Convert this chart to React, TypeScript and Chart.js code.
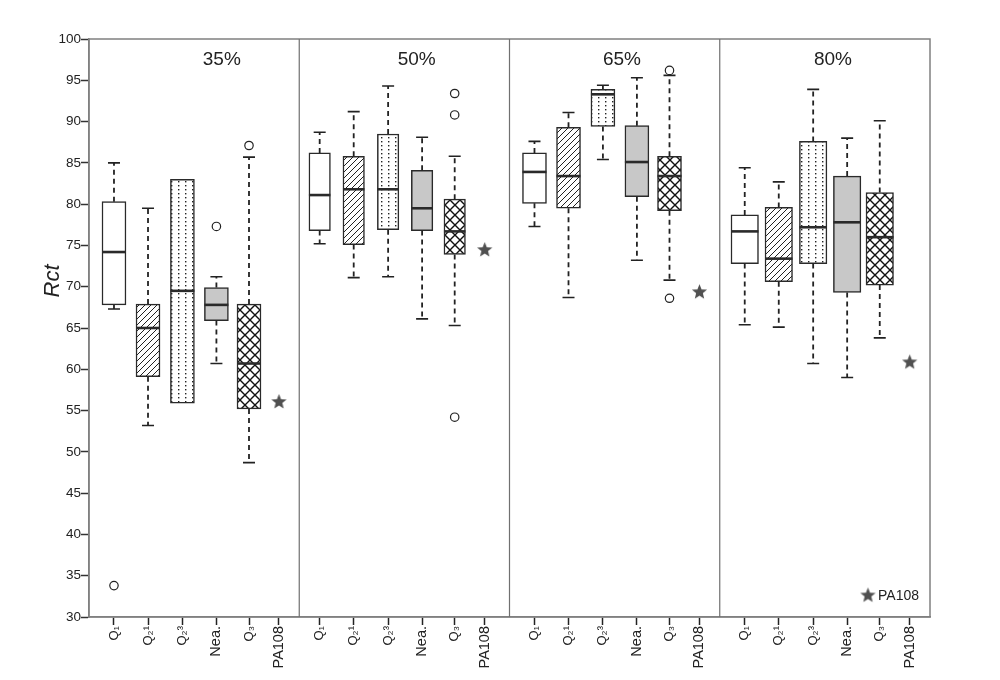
import React, { useEffect, useRef } from 'react';
import { Chart, registerables } from 'chart.js';

Chart.register(...registerables);

// ---------------- data ----------------
const panels = ['35%', '50%', '65%', '80%'];
const groups = ['Q₁', 'Q₂¹', 'Q₂³', 'Nea.', 'Q₃'];
const referenceLabel = 'PA108';
const categories = [...groups, referenceLabel];

const whiskerLow = [
  [67.3, 53.2, 55.9, 60.7, 48.7],
  [75.2, 71.1, 71.2, 66.1, 65.3],
  [77.3, 68.7, 85.4, 73.2, 70.8],
  [65.4, 65.1, 60.7, 59.0, 63.8],
];
const boxLow = [
  [67.8, 59.1, 55.9, 65.9, 55.2],
  [76.8, 75.1, 76.9, 76.8, 73.9],
  [80.1, 79.5, 89.4, 80.9, 79.2],
  [72.8, 70.6, 72.8, 69.3, 70.2],
];
const medians = [
  [74.2, 65.0, 69.5, 67.8, 60.7],
  [81.1, 81.8, 81.8, 79.5, 76.7],
  [83.9, 83.4, 93.3, 85.1, 83.4],
  [76.7, 73.4, 77.2, 77.8, 76.0],
];
const boxHigh = [
  [80.3, 67.9, 83.0, 69.9, 67.9],
  [86.2, 85.8, 88.5, 84.1, 80.6],
  [86.2, 89.3, 93.9, 89.5, 85.8],
  [78.7, 79.6, 87.6, 83.4, 81.4],
];
const whiskerHigh = [
  [85.0, 79.5, 83.0, 71.2, 85.7],
  [88.7, 91.2, 94.3, 88.1, 85.8],
  [87.6, 91.1, 94.4, 95.3, 95.6],
  [84.4, 82.7, 93.9, 88.0, 90.1],
];
// [panel index, group index, value]
const outliers: [number, number, number][] = [
  [0, 0, 33.8], [0, 3, 77.3], [0, 4, 87.1],
  [1, 4, 93.4], [1, 4, 90.8], [1, 4, 54.2],
  [2, 4, 96.2], [2, 4, 68.6],
];
const pa108 = [56.1, 74.5, 69.4, 60.9];
const yMin = 30;
const yMax = 100;
const yStep = 5;

// ---------------- layout ----------------
const SLOT = [0.713, 1.684, 2.666, 3.636, 4.566, 5.422];
const PANEL_SHIFT = [0, -0.13, 0, 0];
const BOX_W = [24, 21.5, 24, 27.5];
const TITLE_X = [3.79, 9.35, 15.21, 21.23];
const xPos = (p: number, i: number) => p * 6 + PANEL_SHIFT[p] + SLOT[i];
const tickPositions = panels.flatMap((_, p) => categories.map((__, i) => xPos(p, i)));

const FONT = '"Liberation Sans", Arial, sans-serif';

function makeTile(w: number, h: number, draw: (g: CanvasRenderingContext2D) => void) {
  const c = document.createElement('canvas');
  c.width = w;
  c.height = h;
  const g = c.getContext('2d')!;
  g.fillStyle = '#ffffff';
  g.fillRect(0, 0, w, h);
  draw(g);
  return c;
}

function makeStar(size: number, color: string) {
  const c = document.createElement('canvas');
  c.width = size;
  c.height = size;
  const g = c.getContext('2d')!;
  const cx = size / 2;
  const cy = size / 2 + 0.5;
  const R = size / 2 - 0.5;
  const r = R * 0.44;
  g.fillStyle = color;
  g.beginPath();
  for (let k = 0; k < 10; k++) {
    const rad = k % 2 === 0 ? R : r;
    const a = -Math.PI / 2 + (k * Math.PI) / 5;
    const px = cx + rad * Math.cos(a);
    const py = cy + rad * Math.sin(a);
    if (k === 0) g.moveTo(px, py);
    else g.lineTo(px, py);
  }
  g.closePath();
  g.fill();
  return c;
}

export default function App() {
  const ref = useRef<HTMLCanvasElement | null>(null);

  useEffect(() => {
    const canvas = ref.current!;
    const ctx0 = canvas.getContext('2d')!;

    const hatchTile = makeTile(6, 6, (g) => {
      g.strokeStyle = '#222';
      g.lineWidth = 1;
      g.beginPath();
      g.moveTo(0, 6); g.lineTo(6, 0);
      g.moveTo(-1, 1); g.lineTo(1, -1);
      g.moveTo(5, 7); g.lineTo(7, 5);
      g.stroke();
    });
    const dotTile = makeTile(7, 4, (g) => {
      g.fillStyle = '#222';
      g.fillRect(3, 1, 1.4, 1.4);
    });
    const crossTile = makeTile(10, 10, (g) => {
      g.strokeStyle = '#111';
      g.lineWidth = 1.4;
      g.beginPath();
      g.moveTo(0, 0); g.lineTo(10, 10);
      g.moveTo(0, 10); g.lineTo(10, 0);
      g.stroke();
    });
    const fills = [
      '#ffffff',
      ctx0.createPattern(hatchTile, 'repeat')!,
      ctx0.createPattern(dotTile, 'repeat')!,
      '#c8c8c8',
      ctx0.createPattern(crossTile, 'repeat')!,
    ];
    const star = makeStar(17, '#505050');

    const extras = {
      id: 'boxExtras',
      afterDatasetsDraw(chart: any) {
        const { ctx } = chart;
        const xs = chart.scales.x;
        const ys = chart.scales.y;
        ctx.save();
        panels.forEach((_, p) => {
          groups.forEach((__, g) => {
            const cx = xs.getPixelForValue(xPos(p, g));
            const w = BOX_W[p];
            const wl = ys.getPixelForValue(whiskerLow[p][g]);
            const wh = ys.getPixelForValue(whiskerHigh[p][g]);
            const bl = ys.getPixelForValue(boxLow[p][g]);
            const bh = ys.getPixelForValue(boxHigh[p][g]);
            const md = ys.getPixelForValue(medians[p][g]);
            ctx.strokeStyle = '#222';
            ctx.lineWidth = 1.8;
            ctx.setLineDash([5, 4]);
            ctx.beginPath();
            if (whiskerHigh[p][g] > boxHigh[p][g]) {
              ctx.moveTo(cx, bh);
              ctx.lineTo(cx, wh);
            }
            if (whiskerLow[p][g] < boxLow[p][g]) {
              ctx.moveTo(cx, bl);
              ctx.lineTo(cx, wl);
            }
            ctx.stroke();
            ctx.setLineDash([]);
            ctx.lineWidth = 1.6;
            ctx.beginPath();
            if (whiskerHigh[p][g] > boxHigh[p][g]) {
              ctx.moveTo(cx - 6, wh);
              ctx.lineTo(cx + 6, wh);
            }
            if (whiskerLow[p][g] < boxLow[p][g]) {
              ctx.moveTo(cx - 6, wl);
              ctx.lineTo(cx + 6, wl);
            }
            ctx.stroke();
            ctx.strokeStyle = '#2a2a2a';
            ctx.lineWidth = 2.6;
            ctx.beginPath();
            ctx.moveTo(cx - w / 2, md);
            ctx.lineTo(cx + w / 2, md);
            ctx.stroke();
          });
        });
        ctx.restore();
      },
      afterDraw(chart: any) {
        const { ctx, chartArea } = chart;
        const xs = chart.scales.x;
        const ys = chart.scales.y;
        ctx.save();
        ctx.strokeStyle = '#808080';
        ctx.lineWidth = 1.5;
        ctx.strokeRect(chartArea.left, chartArea.top, chartArea.right - chartArea.left, chartArea.bottom - chartArea.top);
        ctx.lineWidth = 1.2;
        ctx.strokeStyle = '#707070';
        for (let p = 1; p < panels.length; p++) {
          const px = xs.getPixelForValue(p * 6);
          ctx.beginPath();
          ctx.moveTo(px, chartArea.top);
          ctx.lineTo(px, chartArea.bottom);
          ctx.stroke();
        }
        ctx.fillStyle = '#222';
        ctx.font = `19px ${FONT}`;
        ctx.textAlign = 'center';
        ctx.textBaseline = 'middle';
        panels.forEach((t, p) => {
          ctx.fillText(t, xs.getPixelForValue(TITLE_X[p]), ys.getPixelForValue(97.5));
        });
        // y axis title
        ctx.save();
        ctx.translate(53, 281);
        ctx.rotate(-Math.PI / 2);
        ctx.font = `italic 22px ${FONT}`;
        ctx.fillText('Rct', 0, 0);
        ctx.restore();
        // legend
        const lx = chartArea.right - 62;
        const ly = chartArea.bottom - 22;
        ctx.drawImage(star, lx - star.width / 2, ly - star.height / 2);
        ctx.font = `14px ${FONT}`;
        ctx.textAlign = 'left';
        ctx.fillText(referenceLabel, lx + 10, ly + 1);
        ctx.restore();
      },
    };

    const barSets = panels.map((_, p) => ({
      type: 'bar' as const,
      data: groups.map((__, g) => ({ x: xPos(p, g), y: [boxLow[p][g], boxHigh[p][g]] })),
      backgroundColor: fills,
      borderColor: '#2a2a2a',
      borderWidth: 1.5,
      borderSkipped: false,
      barThickness: BOX_W[p],
      stack: 'boxes',
    }));

    const chart = new Chart(canvas, {
      type: 'bar',
      data: {
        datasets: [
          ...barSets,
          {
            type: 'scatter',
            data: outliers.map(([p, g, v]) => ({ x: xPos(p, g), y: v })),
            pointStyle: 'circle',
            pointRadius: 4.2,
            pointBackgroundColor: '#ffffff',
            pointBorderColor: '#222',
            pointBorderWidth: 1.2,
          },
          {
            type: 'scatter',
            data: pa108.map((v, p) => ({ x: xPos(p, 5), y: v })),
            pointStyle: star,
            pointRadius: 8,
          },
        ] as any,
      },
      options: {
        animation: false,
        responsive: true,
        maintainAspectRatio: false,
        events: [],
        layout: { padding: { left: 0, right: 70, top: 39, bottom: 0 } },
        plugins: { legend: { display: false }, tooltip: { enabled: false } },
        scales: {
          x: {
            type: 'linear',
            min: 0,
            max: panels.length * 6,
            offset: false,
            grid: {
              offset: false,
              drawOnChartArea: false,
              drawTicks: true,
              tickLength: 8,
              tickColor: '#222',
              tickWidth: 1.5,
            },
            border: { display: true, color: '#808080', width: 1.5 },
            afterBuildTicks: (s: any) => {
              s.ticks = tickPositions.map((v) => ({ value: v }));
            },
            afterFit: (s: any) => {
              s.height = 63;
            },
            ticks: {
              autoSkip: false,
              maxRotation: 90,
              minRotation: 90,
              padding: 1,
              color: '#222',
              font: (c: any) => {
                const k = (c.index ?? 0) % categories.length;
                return { family: FONT, size: k === 3 || k === 5 ? 14.5 : 13 };
              },
              callback: (_v: any, i: number) => categories[i % categories.length],
            },
          },
          y: {
            type: 'linear',
            min: yMin,
            max: yMax,
            stacked: false,
            grid: {
              drawOnChartArea: false,
              drawTicks: true,
              tickLength: 8,
              tickColor: '#333',
              tickWidth: 1.5,
            },
            border: { display: true, color: '#808080', width: 1.5 },
            afterFit: (s: any) => {
              s.width = 89;
            },
            ticks: {
              stepSize: yStep,
              padding: 0,
              color: '#222',
              font: { family: FONT, size: 13.5 },
            },
          },
        },
      } as any,
      plugins: [extras],
    });

    return () => chart.destroy();
  }, []);

  return (
    <div style={{ position: 'absolute', left: 0, top: 0, width: 1000, height: 680, background: '#fff' }}>
      <canvas ref={ref} />
    </div>
  );
}
